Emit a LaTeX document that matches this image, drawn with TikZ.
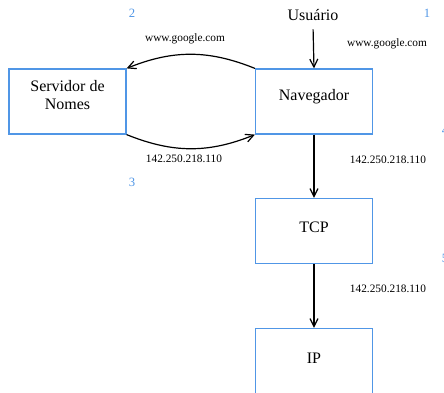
\documentclass[tikz,border=0pt]{standalone}
\usepackage{fontspec}
\setmainfont{Liberation Serif}
\usetikzlibrary{arrows.meta}
\definecolor{nblue}{RGB}{80,150,230}
\begin{document}
\begin{tikzpicture}[x=0.75pt,y=-0.75pt,
  box/.style={draw=nblue, line width=0.9pt, minimum width=87.75pt, minimum height=48.75pt, inner sep=0pt},
  big/.style={font=\fontsize{12}{13.5}\selectfont},
  small/.style={font=\fontsize{8.5}{10}\selectfont},
  num/.style={text=nblue, font=\fontsize{9.5}{11}\selectfont},
  arr/.style={line width=0.9pt, -{Straight Barb[length=6pt,width=6pt]}}]
\useasboundingbox (0,0) rectangle (444,393);
% boxes
\node[box] (srv) at (67.5,101.5) {};
\node[big, align=center] (srvt) at (67.5,95) {Servidor de\\Nomes};
\node[box] (nav) at (314,101.5) {};
\node[big] (navt) at (314,97) {Navegador};
\node[box] (tcp) at (314,231) {};
\node[big] (tcpt) at (314,227) {TCP};
\node[box] (ip) at (314,361) {};
\node[big] (ipt) at (314,358) {IP};
\node[big] (usr) at (313,15) {Usuário};
% connectors
\draw[arr, shorten <=3pt] (usr.south) -- (nav.north);
\draw[arr] (nav.north west) to[bend right=22] (srv.north east);
\draw[arr] (srv.south east) to[bend right=22] (nav.south west);
\draw[arr] (nav.south) -- (tcp.north);
\draw[arr] (tcp.south) -- (ip.north);
% labels
\node[num] (n1) at (427,13) {1};
\node[small] (l1) at (387,44) {www.google.com};
\node[num] (n2) at (132,13) {2};
\node[small] (l2) at (185,39) {www.google.com};
\node[small] (l3) at (184,159) {142.250.218.110};
\node[num] (n3) at (132,182) {3};
\node[num] (n4) at (445,130) {4};
\node[small] (l4) at (388,160) {142.250.218.110};
\node[num] (n5) at (445,258) {5};
\node[small] (l5) at (388,289) {142.250.218.110};
\end{tikzpicture}
\end{document}
